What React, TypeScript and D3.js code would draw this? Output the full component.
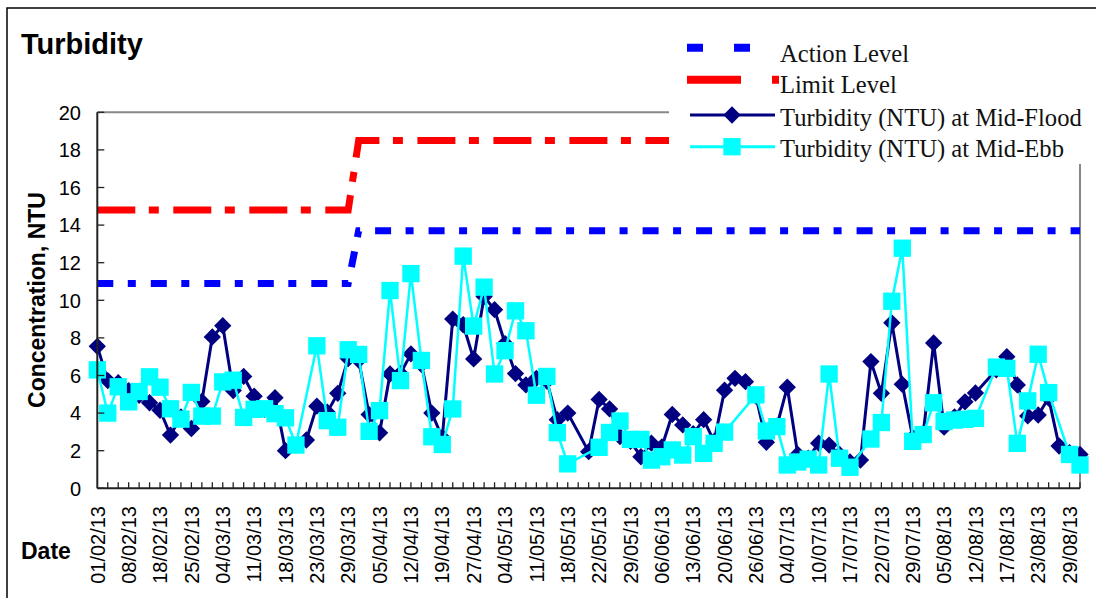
import React from "react";
import * as d3 from "d3";

// ---------- data ----------
const dates: string[] = [
  "01/02/13","04/02/13","06/02/13","08/02/13","13/02/13","15/02/13","18/02/13","20/02/13","22/02/13","25/02/13",
  "27/02/13","01/03/13","04/03/13","06/03/13","08/03/13","11/03/13","13/03/13","15/03/13","18/03/13","20/03/13",
  "21/03/13","23/03/13","25/03/13","27/03/13","29/03/13","01/04/13","03/04/13","05/04/13","08/04/13","10/04/13",
  "12/04/13","15/04/13","17/04/13","19/04/13","22/04/13","24/04/13","27/04/13","29/04/13","02/05/13","04/05/13",
  "07/05/13","09/05/13","11/05/13","13/05/13","15/05/13","18/05/13","20/05/13","21/05/13","22/05/13","24/05/13",
  "27/05/13","29/05/13","31/05/13","03/06/13","06/06/13","08/06/13","11/06/13","13/06/13","15/06/13","18/06/13",
  "20/06/13","22/06/13","24/06/13","26/06/13","28/06/13","02/07/13","04/07/13","06/07/13","08/07/13","10/07/13",
  "12/07/13","15/07/13","17/07/13","18/07/13","20/07/13","22/07/13","24/07/13","26/07/13","29/07/13","31/07/13",
  "02/08/13","05/08/13","07/08/13","09/08/13","12/08/13","13/08/13","15/08/13","17/08/13","19/08/13","21/08/13",
  "23/08/13","26/08/13","27/08/13","29/08/13","31/08/13",
];

const midFlood: (number | null)[] = [
  7.55, 5.73, 5.62, 5.2, 4.95, 4.55, 4.15, 2.83, 3.8, 3.18,
  4.62, 8.05, 8.65, 5.2, 5.95, 4.9, 4.2, 4.82, 2.0, 2.3,
  2.57, 4.37, 4.05, 5.05, 6.9, 6.82, 3.92, 2.95, 6.08, 6.1,
  7.15, 6.6, 4.0, 2.7, 9.0, 8.7, 6.88, 10.2, 9.5, 7.7,
  6.1, 5.5, 5.85, 5.7, 3.65, 4.0, null, 1.95, 4.73, 4.22,
  2.75, 2.5, 1.68, 2.4, 2.2, 3.93, 3.37, 2.9, 3.65, 2.5,
  5.22, 5.85, 5.67, 4.9, 2.45, 3.3, 5.38, 1.8, 1.6, 2.4,
  2.3, 1.8, 1.4, 1.5, 6.74, 5.05, 8.8, 5.53, 2.7, 2.9,
  7.73, 3.25, 3.8, 4.6, 5.07, null, 6.3, 7.0, 5.5, 3.85,
  3.9, 4.8, 2.25, 1.9, 1.8,
];

const midEbb: (number | null)[] = [
  6.3, 4.0, 5.4, 4.6, 5.15, 5.93, 5.38, 4.23, 3.68, 5.1,
  3.84, 3.84, 5.66, 5.75, 3.77, 4.2, 4.23, 3.97, 3.75, 2.3,
  null, 7.58, 3.6, 3.25, 7.37, 7.12, 3.03, 4.13, 10.52, 5.73,
  11.42, 6.8, 2.74, 2.33, 4.22, 12.35, 8.63, 10.7, 6.08, 7.32,
  9.44, 8.38, 4.95, 5.95, 2.96, 1.3, null, null, 2.18, 2.97,
  3.58, 2.6, 2.6, 1.5, 1.68, 2.04, 1.77, 2.75, 1.86, 2.39,
  2.99, null, null, 4.97, 3.05, 3.28, 1.24, 1.4, 1.55, 1.24,
  6.08, 1.6, 1.12, null, 2.62, 3.5, 9.95, 12.77, 2.5, 2.86,
  4.55, 3.55, 3.63, 3.67, 3.72, null, 6.45, 6.38, 2.39, 4.65,
  7.13, 5.09, null, 1.8, 1.24,
];

// Action / Limit levels per period
const periodStart: string[] = ["01/02/13", "01/04/13"];
const periodEnd: string[] = ["29/03/13", "31/08/13"];
const actionLevel: number[] = [10.9, 13.7];
const limitLevel: number[] = [14.8, 18.5];

const yTicks: number[] = [0, 2, 4, 6, 8, 10, 12, 14, 16, 18, 20];
const labelEvery = 3;

const legendLabels: string[] = [
  "Action Level",
  "Limit Level",
  "Turbidity (NTU) at Mid-Flood",
  "Turbidity (NTU) at Mid-Ebb",
];

// ---------- chart ----------
const SANS = "'Liberation Sans', Arial, sans-serif";
const SERIF = "'Liberation Serif', 'Times New Roman', serif";

export default function App() {
  const x = d3.scalePoint<string>().domain(dates).range([97.3, 1080]);
  const y = d3.scaleLinear().domain([0, 20]).range([488.3, 112.3]);

  const seriesPoints = (vals: (number | null)[]) =>
    dates
      .map((d, i) => ({ d, v: vals[i] }))
      .filter((p) => p.v !== null && p.v !== undefined) as { d: string; v: number }[];

  const line = d3
    .line<{ d: string; v: number }>()
    .x((p) => x(p.d) as number)
    .y((p) => y(p.v));

  const levelPts = (levels: number[]) => {
    const pts: { d: string; v: number }[] = [];
    levels.forEach((lv, k) => {
      pts.push({ d: periodStart[k], v: lv });
      pts.push({ d: periodEnd[k], v: lv });
    });
    return pts;
  };

  const floodPts = seriesPoints(midFlood);
  const ebbPts = seriesPoints(midEbb);

  const diamond = d3.symbol(d3.symbolSquare, 150)() as string;
  const square = d3.symbol(d3.symbolSquare, 300)() as string;

  const x0 = 97.3, x1 = 1080, yTop = 112.3, yBot = 488.3;
  const legendY = [61.7, 93.3, 126, 157];

  return (
    <svg
      width={1096}
      height={598}
      style={{ position: "absolute", left: 0, top: 0, background: "#fff" }}
    >
      <rect x={0} y={0} width={1096} height={598} fill="#fff" />
      {/* outer frame */}
      <rect x={7} y={8} width={1100} height={620} fill="none" stroke="#000" strokeWidth={1.5} />

      {/* title */}
      <text x={21} y={54} fontFamily={SANS} fontWeight="bold" fontSize={29} fill="#000">
        Turbidity
      </text>

      {/* plot border (top/right) */}
      <line x1={x0} y1={yTop} x2={x1} y2={yTop} stroke="#888" strokeWidth={2} />
      <line x1={x1} y1={yTop} x2={x1} y2={yBot} stroke="#888" strokeWidth={2} />

      {/* levels */}
      <path
        d={line(levelPts(actionLevel)) as string}
        fill="none"
        stroke="#0000ff"
        strokeWidth={7}
        strokeDasharray="16,14.5,8,15"
      />
      <path
        d={line(levelPts(limitLevel)) as string}
        fill="none"
        stroke="#ff0000"
        strokeWidth={7}
        strokeDasharray="38,13.5,10,14.5"
      />

      {/* mid-flood */}
      <path d={line(floodPts) as string} fill="none" stroke="#000080" strokeWidth={3} />
      {floodPts.map((p, i) => (
        <path
          key={"f" + i}
          d={diamond}
          transform={`translate(${x(p.d)},${y(p.v)}) rotate(45)`}
          fill="#000080"
        />
      ))}

      {/* mid-ebb */}
      <path d={line(ebbPts) as string} fill="none" stroke="#00ffff" strokeWidth={2.5} />
      {ebbPts.map((p, i) => (
        <path
          key={"e" + i}
          d={square}
          transform={`translate(${x(p.d)},${y(p.v)})`}
          fill="#00ffff"
        />
      ))}

      {/* axes */}
      <line x1={x0} y1={yTop} x2={x0} y2={yBot} stroke="#222" strokeWidth={2} />
      <line x1={x0} y1={yBot} x2={x1} y2={yBot} stroke="#222" strokeWidth={2} />
      {yTicks.map((t) => (
        <g key={"yt" + t}>
          <line x1={x0} x2={x0 + 7} y1={y(t)} y2={y(t)} stroke="#222" strokeWidth={1.3} />
          <text
            x={81}
            y={y(t)}
            dy="0.36em"
            textAnchor="end"
            fontFamily={SANS}
            fontSize={20}
            fill="#000"
          >
            {t}
          </text>
        </g>
      ))}
      {dates.map((d, i) => (
        <g key={"xt" + i}>
          {i > 0 && (
            <line x1={x(d)} x2={x(d)} y1={yBot} y2={yBot - 6} stroke="#222" strokeWidth={1.3} />
          )}
          {i % labelEvery === 0 && (
            <text
              transform={`translate(${x(d)},506) rotate(-90)`}
              dy="0.36em"
              textAnchor="end"
              fontFamily={SANS}
              fontSize={20}
              fill="#000"
            >
              {d}
            </text>
          )}
        </g>
      ))}

      {/* axis titles */}
      <text
        transform="translate(45,300) rotate(-90)"
        textAnchor="middle"
        fontFamily={SANS}
        fontWeight="bold"
        fontSize={23}
        fill="#000"
      >
        Concentration, NTU
      </text>
      <text x={21} y={559} fontFamily={SANS} fontWeight="bold" fontSize={23} fill="#000">
        Date
      </text>

      {/* legend */}
      <rect x={669} y={30} width={427} height={134} fill="#fff" />
      <line x1={687} x2={750} y1={47.8} y2={47.8} stroke="#0000ff" strokeWidth={8} strokeDasharray="16,31" />
      <line x1={687} x2={779} y1={79.8} y2={79.8} stroke="#ff0000" strokeWidth={8} strokeDasharray="54,31,7,100" />
      <line x1={690} x2={775} y1={115} y2={115} stroke="#000080" strokeWidth={3} />
      <path d={diamond} transform="translate(732,115) rotate(45)" fill="#000080" />
      <line x1={690} x2={775} y1={146.7} y2={146.7} stroke="#00ffff" strokeWidth={3} />
      <path d={square} transform="translate(732,146.7)" fill="#00ffff" />
      {legendLabels.map((l, i) => (
        <text
          key={l}
          x={780}
          y={legendY[i]}
          fontFamily={SERIF}
          fontSize={24.6}
          fill="#111"
        >
          {l}
        </text>
      ))}
    </svg>
  );
}
